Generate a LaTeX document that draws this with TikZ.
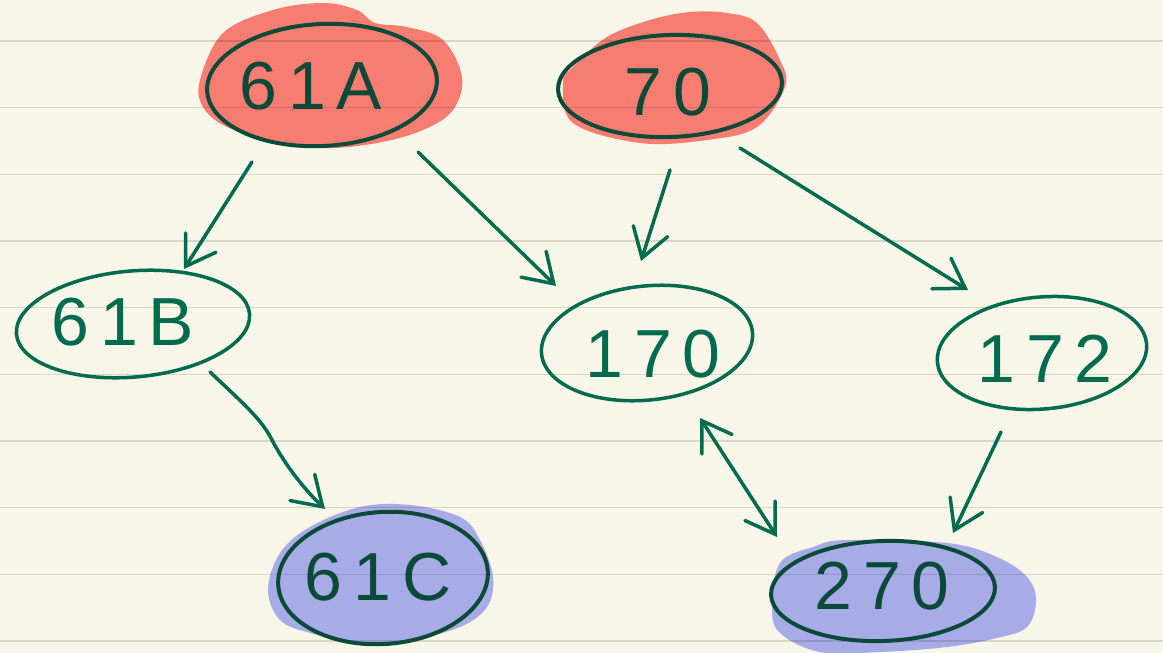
\documentclass[tikz,border=0pt]{standalone}
\usepackage{fontspec}
\setmainfont{Liberation Sans}
\usetikzlibrary{shapes.geometric,arrows.meta}
\definecolor{paper}{HTML}{F8F6E9}
\definecolor{inkgreen}{HTML}{006B4F}
\definecolor{inkdark}{HTML}{0B4A38}
\definecolor{hired}{HTML}{F77D72}
\definecolor{hiblue}{HTML}{A8ACE6}
\tikzset{
  x=1pt, y=-1pt,
  bubble/.style={ellipse, draw=inkgreen, line width=3.5pt, inner sep=0pt},
  darkbubble/.style={bubble, draw=inkdark, line width=4pt},
  tag/.style={inner sep=0pt, text=inkgreen,
    font=\fontsize{68}{68}\selectfont\addfontfeature{LetterSpace=16}},
  darktag/.style={tag, text=inkdark},
  barb/.tip={Straight Barb[length=28pt,width=36pt,line cap=round]},
  arr/.style={draw=inkgreen, line width=3.5pt, line cap=round, line join=round, -barb},
  dblarr/.style={arr, barb-barb},
  rule/.style={draw=black, draw opacity=0.13, line width=1.6pt},
}
\begin{document}
\begin{tikzpicture}
  % paper
  \fill[paper] (0,0) rectangle (1163,653);
  \useasboundingbox (0,0) rectangle (1163,653);

  % highlighter marks
  \fill[hired] plot[smooth cycle, tension=0.6] coordinates {
    (200,80) (223,33) (273,10) (323,3) (357,10) (375,23) (407,27) (443,40)
    (462,77) (453,110) (423,130) (377,143) (323,148) (273,140) (227,127) (203,107)};
  \fill[hired] plot[smooth cycle, tension=0.6] coordinates {
    (563,83) (573,123) (640,143) (707,140) (757,127) (785,87) (780,60) (757,23)
    (727,13) (690,12) (650,20) (607,37) (573,67)};
  \fill[hiblue] plot[smooth cycle, tension=0.6] coordinates {
    (360,507) (410,505) (460,517) (480,540) (493,577) (487,607) (460,627) (410,640)
    (360,643) (310,633) (280,620) (268,590) (280,553) (310,527)};
  \fill[hiblue] plot[smooth cycle, tension=0.6] coordinates {
    (847,540) (947,543) (997,557) (1027,577) (1036,600) (1027,627) (997,638) (947,647)
    (880,652) (820,652) (780,633) (772,607) (780,563) (813,547)};

  % ruled lines
  \foreach \k in {0,...,9}
    \draw[rule] (0,{41+66.67*\k}) -- (1163,{41+66.67*\k});

  % outlines
  \node[darkbubble, minimum width=230pt, minimum height=122pt, rotate=3] (n61A) at (322,85) {};
  \node[darkbubble, minimum width=224pt, minimum height=102pt, rotate=2] (n70) at (670,86) {};
  \node[bubble, minimum width=234pt, minimum height=106pt, rotate=5] (n61B) at (133,324) {};
  \node[bubble, minimum width=212pt, minimum height=114pt, rotate=6] (n170) at (647,343) {};
  \node[bubble, minimum width=210pt, minimum height=112pt, rotate=5] (n172) at (1042,353) {};
  \node[darkbubble, minimum width=210pt, minimum height=132pt, rotate=4] (n61C) at (383,578) {};
  \node[darkbubble, minimum width=224pt, minimum height=100pt, rotate=2] (n270) at (883,591) {};

  % labels
  \node[darktag] (t61A) at (311,86) {61A};
  \node[darktag] (t70) at (668,92) {70};
  \node[tag] (t61B) at (123,322) {61B};
  \node[tag] (t170) at (653,354) {170};
  \node[tag] (t172) at (1045,359) {172};
  \node[darktag] (t61C) at (378,577) {61C};
  \node[darktag] (t270) at (882,586) {270};

  % connector end points
  \coordinate (a1) at (252,162);  \coordinate (b1) at (184,269);
  \coordinate (a2) at (418,152);  \coordinate (b2) at (556,286);
  \coordinate (a3) at (670,170);  \coordinate (b3) at (641,261);
  \coordinate (a4) at (740,148);  \coordinate (b4) at (968,290);
  \coordinate (a5) at (210,372);  \coordinate (b5) at (325,509);
  \coordinate (a6) at (700,418);  \coordinate (b6) at (777,537);
  \coordinate (a7) at (1001,432); \coordinate (b7) at (953,533);

  % connectors
  \draw[arr] (a1) -- (b1);
  \draw[arr] (a2) -- (b2);
  \draw[arr] (a3) -- (b3);
  \draw[arr] (a4) -- (b4);
  \draw[arr] (a5) .. controls (245,405) and (262,420) .. (272,440)
                  .. controls (285,465) and (305,490) .. (b5);
  \draw[dblarr] (a6) -- (b6);
  \draw[arr] (a7) -- (b7);
\end{tikzpicture}
\end{document}
